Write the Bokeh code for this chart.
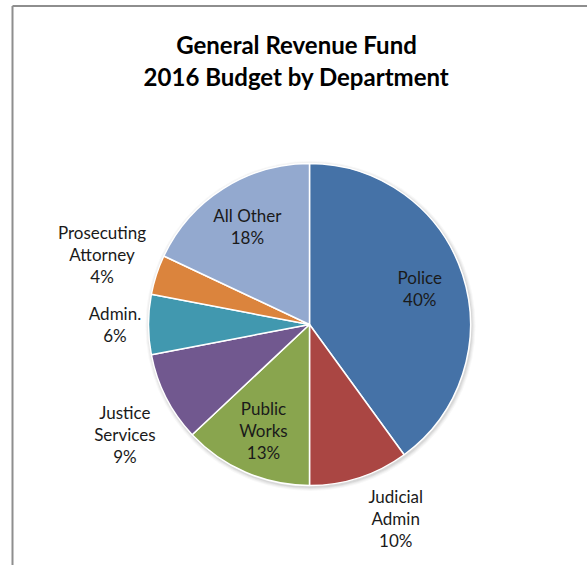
import math
from bokeh.plotting import figure
from bokeh.models import Range1d, ColumnDataSource
from bokeh.core.properties import value
from bokeh.embed import file_html
from bokeh.resources import INLINE

# ---- data ----
categories = ["Police", "Judicial Admin", "Public Works", "Justice Services",
              "Admin.", "Prosecuting Attorney", "All Other"]
label_lines = ["Police", "Judicial\nAdmin", "Public\nWorks", "Justice\nServices",
               "Admin.", "Prosecuting\nAttorney", "All Other"]
shares = [40, 10, 13, 9, 6, 4, 18]
colors = ["#4572A7", "#AA4643", "#89A54E", "#71588F", "#4198AF", "#DB843D", "#93A9CF"]
title_lines = ["General Revenue Fund", "2016 Budget by Department"]

# ---- layout ----
W, H = 587, 565
def X(px):
    return px
def Y(py):
    return H - py

cx, cy, R = X(309), Y(324), 161.0
FONT = "Lato"
LBL_SIZE = 17
LINE_H = 22.0

p = figure(width=W, height=H, output_backend="svg", toolbar_location=None,
           x_axis_type=None, y_axis_type=None, min_border=0,
           x_range=Range1d(0, W), y_range=Range1d(0, H))
p.outline_line_color = None
p.grid.visible = False
p.background_fill_color = "white"
p.border_fill_color = "white"

# frame border (top and left edges visible)
p.line(x=[X(12), X(12)], y=[Y(5.5), 0], line_color="#8e8e8e", line_width=2)
p.line(x=[X(12), W], y=[Y(5.5), Y(5.5)], line_color="#8e8e8e", line_width=2)

# title
tx = [X(296)] * len(title_lines)
ty = [Y(44 + 31.5 * i) for i in range(len(title_lines))]
p.text(x=tx, y=ty, text=title_lines, text_font=value(FONT), text_font_style="bold",
       text_font_size="24px", text_align="center", text_baseline="middle",
       text_color="#000000")

# soft shadow
for k, a in [(4, 0.05), (3, 0.07), (2, 0.09), (1, 0.12)]:
    p.circle(x=[cx + 1], y=[cy - 1.5], radius=R + k, fill_color="#7f7f7f",
             fill_alpha=a, line_color=None)

# wedges: start at 12 o'clock, clockwise
total = float(sum(shares))
starts, ends, mids = [], [], []
cum = 0.0
for s in shares:
    a0 = math.pi / 2 - 2 * math.pi * (cum + s) / total
    a1 = math.pi / 2 - 2 * math.pi * cum / total
    starts.append(a0)
    ends.append(a1)
    mids.append((a0 + a1) / 2)
    cum += s

src = ColumnDataSource(dict(start=starts, end=ends, color=colors, cat=categories))
p.wedge(x=cx, y=cy, radius=R, start_angle="start", end_angle="end",
        fill_color="color", line_color="white", line_width=1.5, source=src)

# labels
lx, ly, lt = [], [], []
for name, s, m in zip(label_lines, shares, mids):
    lines = name.split("\n") + [f"{s}%"]
    c, sn = math.cos(m), math.sin(m)
    n = len(lines)
    if s > 10:
        d = 0.72 * R
        bx, by = cx + d * c, cy + d * sn
    else:
        hw = max(len(t) for t in lines) * 0.5 * LBL_SIZE / 2
        hh = n * LINE_H / 2
        d = R + 8
        px, py = cx + d * c, cy + d * sn
        gy = math.copysign(min(1.0, (abs(sn) / 0.42) ** 2), sn)
        bx = px + hw * math.copysign(1.0, c)
        by = py + hh * gy
    for i, t in enumerate(lines):
        lx.append(bx)
        ly.append(by + (n - 1) / 2 * LINE_H - i * LINE_H)
        lt.append(t)

p.text(x=lx, y=ly, text=lt, text_font=value(FONT), text_font_size=f"{LBL_SIZE}px",
       text_align="center", text_baseline="middle", text_color="#1a1a1a")

open("out.html", "w").write(file_html(p, INLINE))
